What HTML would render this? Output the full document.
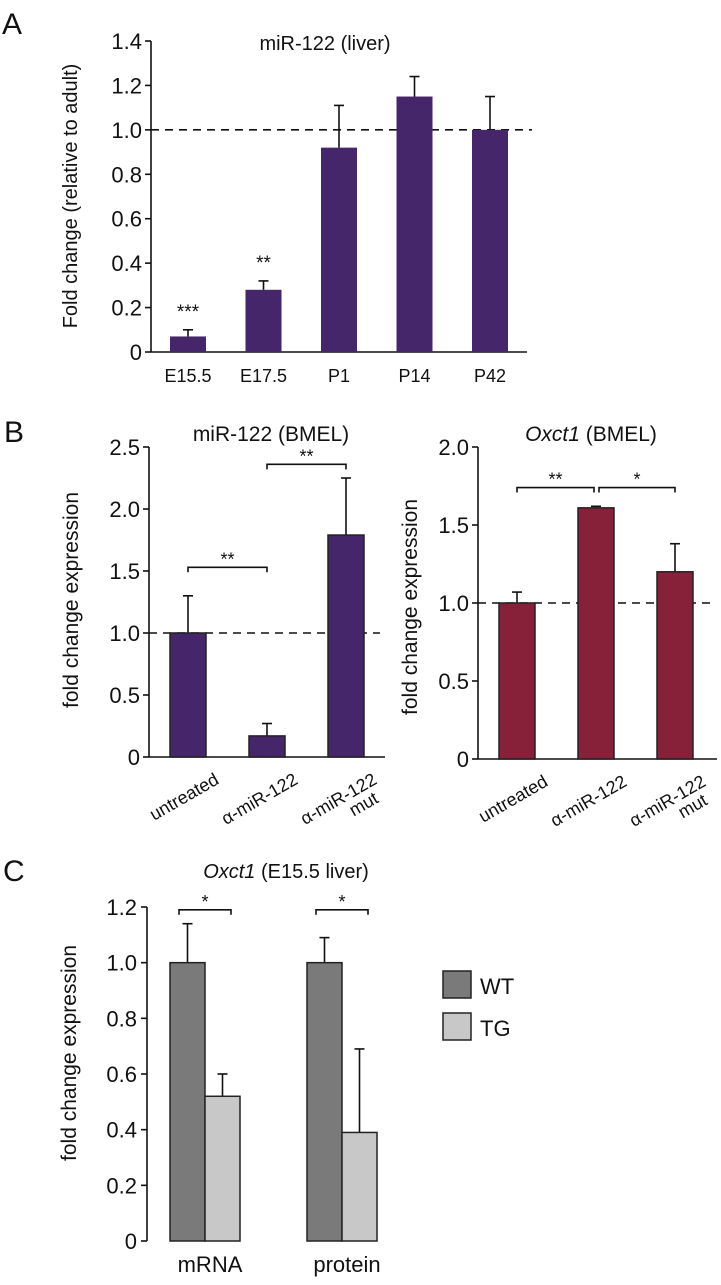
<!DOCTYPE html>
<html><head><meta charset="utf-8"><style>
html,body{margin:0;padding:0;background:#fff}
svg text{font-family:"Liberation Sans",sans-serif;fill:#111}
</style></head><body>
<svg id="fig" width="721" height="1280" viewBox="0 0 721 1280" xmlns="http://www.w3.org/2000/svg">
<text x="2" y="34" font-size="30">A</text>
<text x="325" y="50" font-size="20" text-anchor="middle">miR-122 (liver)</text>
<text transform="translate(77,196) rotate(-90)" font-size="20" text-anchor="middle">Fold change (relative to adult)</text>
<text x="4" y="442" font-size="30">B</text>
<text x="271" y="441" font-size="21" text-anchor="middle">miR-122 (BMEL)</text>
<text transform="translate(78,600) rotate(-90)" font-size="21" text-anchor="middle">fold change expression</text>
<text x="591" y="441" font-size="21" text-anchor="middle"><tspan font-style="italic">Oxct1</tspan> (BMEL)</text>
<text transform="translate(417,607) rotate(-90)" font-size="21" text-anchor="middle">fold change expression</text>
<text x="3" y="881" font-size="30">C</text>
<text x="286" y="878" font-size="20" text-anchor="middle"><tspan font-style="italic">Oxct1</tspan> (E15.5 liver)</text>
<text transform="translate(76,1053) rotate(-90)" font-size="21" text-anchor="middle">fold change expression</text>
<rect x="443" y="971" width="28" height="27" fill="#7a7a7a" stroke="#222" stroke-width="1.5"/>
<text x="480" y="994" font-size="22">WT</text>
<rect x="443" y="1013" width="28" height="27" fill="#c8c8c8" stroke="#222" stroke-width="1.5"/>
<text x="480" y="1036" font-size="22">TG</text>
</svg>
<script>
// Panel A data
const aCats = ["E15.5","E17.5","P1","P14","P42"];
const aVals = [0.07,0.28,0.92,1.15,1.0];
const aErrs = [0.03,0.04,0.19,0.09,0.15];
const aTicks = [0,0.2,0.4,0.6,0.8,1.0,1.2,1.4];
const aTickLabels = ["0","0.2","0.4","0.6","0.8","1.0","1.2","1.4"];
const aStars = ["***","**","","",""];
// Panel B left
const blCats = ["untreated","α-miR-122","α-miR-122 mut"];
const blVals = [1.0,0.17,1.79];
const blErrs = [0.30,0.10,0.46];
const blTicks = [0,0.5,1.0,1.5,2.0,2.5];
const blTickLabels = ["0","0.5","1.0","1.5","2.0","2.5"];
// Panel B right
const brCats = ["untreated","α-miR-122","α-miR-122 mut"];
const brVals = [1.0,1.61,1.2];
const brErrs = [0.07,0.01,0.18];
const brTicks = [0,0.5,1.0,1.5,2.0];
const brTickLabels = ["0","0.5","1.0","1.5","2.0"];
// Panel C
const cGroups = ["mRNA","protein"];
const cWT = [1.0,1.0];
const cWTErr = [0.14,0.09];
const cTG = [0.52,0.39];
const cTGErr = [0.08,0.30];
const cTicks = [0,0.2,0.4,0.6,0.8,1.0,1.2];
const cTickLabels = ["0","0.2","0.4","0.6","0.8","1.0","1.2"];

const svg = document.getElementById('fig');
const NS = 'http://www.w3.org/2000/svg';
function mk(tag, attrs, parent){
  const e = document.createElementNS(NS, tag);
  for (const k in attrs) e.setAttribute(k, attrs[k]);
  (parent||svg).appendChild(e);
  return e;
}
function line(x1,y1,x2,y2,w,extra){
  const l = mk('line',{x1:x1,y1:y1,x2:x2,y2:y2,stroke:'#111','stroke-width':w||1.6});
  if (extra) l.setAttribute('stroke-dasharray', extra);
  return l;
}
function axis(ax, ticks, labels, name){
  const y = v => ax.y0 - (v - ax.vmin) / (ax.vmax - ax.vmin) * (ax.y0 - ax.y1);
  const a = line(ax.x, y(ax.vmax), ax.x, ax.y0);
  
  
  const b = line(ax.x, ax.y0, ax.xEnd, ax.y0);
  
  
  ticks.forEach((t,i)=>{
    line(ax.x-6, y(t), ax.x, y(t));
    const tx = mk('text',{x:ax.x-9,y:y(t)+8,'font-size':ax.fs,'text-anchor':'end'});
    tx.textContent = labels[i];
    
    
  });
  return y;
}
function bar(x, w, v, err, y, fill, name, stroke){
  line(x+w/2, y(v+err), x+w/2, y(v), 1.6);
  line(x+w/2-5, y(v+err), x+w/2+5, y(v+err), 1.6);
  const r = mk('rect',{x:x,y:y(v),width:w,height:y(0)-y(v),fill:fill});
  if (stroke){ r.setAttribute('stroke','#222'); r.setAttribute('stroke-width','1.5'); }
  
  
}
function bracket(x1,x2,yy,label,name){
  const p = mk('path',{d:`M${x1} ${yy+5} V${yy} H${x2} V${yy+5}`,fill:'none',stroke:'#111','stroke-width':1.6});
  
  
  const t = mk('text',{x:(x1+x2)/2,y:yy-2,'font-size':18,'text-anchor':'middle'});
  t.textContent = label;
  
  
}

// Panel A
(function(){
  const ax = {x:151,xEnd:527,y0:352,y1:41,vmin:0,vmax:1.4,fs:22};
  const y = axis(ax, aTicks, aTickLabels, 'panel-a');
  const d = line(151, y(1.0), 532, y(1.0), 1.6, '8,6');
  
  
  aCats.forEach((c,i)=>{
    const cx = 188 + i*75.5;
    bar(cx-18, 36, aVals[i], aErrs[i], y, '#46266a', 'bar-a-' + c.toLowerCase().replace('.','-'));
    const t = mk('text',{x:cx,y:382,'font-size':18,'text-anchor':'middle'});
    t.textContent = c;
    
    
    if (aStars[i]){
      const s = mk('text',{x:cx,y:y(aVals[i]+aErrs[i])-12,'font-size':19,'text-anchor':'middle'});
      s.textContent = aStars[i];
      
      
    }
  });
})();

function panelB(cats, vals, errs, ticks, labels, ax, color, name, brackets){
  const y = axis(ax, ticks, labels, name);
  const d = line(ax.x, y(1.0), ax.dashEnd, y(1.0), 1.6, '8,6');
  
  
  const xs = [];
  cats.forEach((c,i)=>{
    const bx = ax.x + 21 + i*79;
    xs.push(bx+18);
    bar(bx, 36, vals[i], errs[i], y, color, name + '-bar-' + i, true);
    const parts = c.split(' ');
    const g = mk('g',{transform:`translate(${bx+50},${ax.y0+26}) rotate(-30)`});
    
    
    const t = mk('text',{x:0,y:0,'font-size':18,'text-anchor':'end'}, g);
    t.textContent = parts[0];
    if (parts[1]){
      const t2 = mk('text',{x:-8,y:17,'font-size':18,'text-anchor':'end'}, g);
      t2.textContent = parts[1];
    }
  });
  brackets.forEach(b=>{
    bracket(xs[b.a]+(b.off||0), xs[b.b]-(b.off2||0), y(b.v), b.s, name + '-bracket');
  });
}
panelB(blCats, blVals, blErrs, blTicks, blTickLabels,
  {x:149,xEnd:385,dashEnd:380,y0:757,y1:447,vmin:0,vmax:2.5,fs:22}, '#46266a', 'panel-b-left',
  [{a:0,b:1,v:1.53,s:'**'},{a:1,b:2,v:2.36,s:'**'}]);
panelB(brCats, brVals, brErrs, brTicks, brTickLabels,
  {x:478,xEnd:717,dashEnd:710,y0:759,y1:447,vmin:0,vmax:2.0,fs:22}, '#862139', 'panel-b-right',
  [{a:0,b:1,v:1.74,s:'**',off2:2},{a:1,b:2,v:1.74,s:'*',off:3}]);

// Panel C
(function(){
  const ax = {x:147,y0:1241,y1:907};
  const y = v => ax.y0 - v/1.2*(ax.y0-ax.y1);
  const a = line(147, y(1.2), 147, ax.y0);
  
  
  cTicks.forEach((t,i)=>{
    line(141, y(t), 147, y(t));
    const tx = mk('text',{x:137,y:y(t)+8,'font-size':22,'text-anchor':'end'});
    tx.textContent = cTickLabels[i];
    
    
  });
  cGroups.forEach((g,i)=>{
    const gx = 170 + i*137;
    bar(gx, 35, cWT[i], cWTErr[i], y, '#7a7a7a', 'bar-c-wt-' + g.toLowerCase(), true);
    bar(gx+35, 35, cTG[i], cTGErr[i], y, '#c8c8c8', 'bar-c-tg-' + g.toLowerCase(), true);
    bracket(gx+9, gx+61, y(1.19), '*', 'panel-c-bracket');
    const t = mk('text',{x:gx+40,y:1272,'font-size':22,'text-anchor':'middle'});
    t.textContent = g;
    
    
  });
})();
</script>
</body></html>
